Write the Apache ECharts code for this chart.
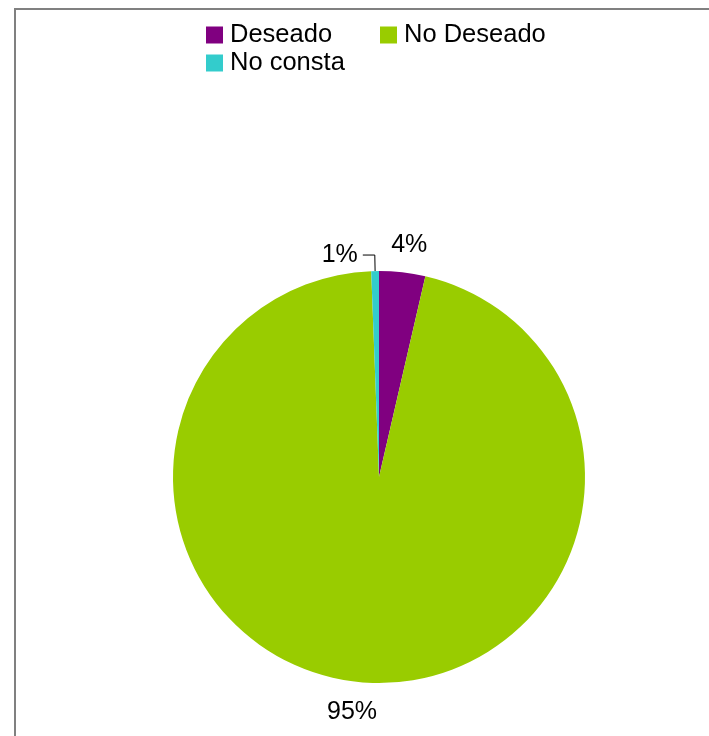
<!DOCTYPE html>
<html>
<head>
<meta charset="utf-8">
<script src="https://cdn.jsdelivr.net/npm/echarts@6/dist/echarts.min.js"></script>
<style>
  html, body { margin: 0; padding: 0; background: #fff; }
  #chart { width: 709px; height: 736px; }
</style>
</head>
<body>
<div id="chart"></div>
<script>
// datos (porcentajes)
const categories = ['Deseado', 'No Deseado', 'No consta'];
const values = [3.6, 95.4, 0.6];
const colors = ['#800080', '#99CC00', '#33CCCC'];

var chartDom = document.getElementById('chart');
var myChart = echarts.init(chartDom);
var option;

const font = '"Liberation Sans", Arial, sans-serif';

// una leyenda por serie, colocadas como en el original
const legendPos = [
  { left: 206, top: 22 },
  { left: 380, top: 22 },
  { left: 206, top: 50 }
];

// desplazamiento de las etiquetas (estilo Excel, centradas)
const labelShift = [
  { dx: -30, dy: -11 },
  { dx: 36, dy: 14 },
  { dx: 0, dy: 0 }
];

option = {
  animation: false,
  backgroundColor: '#fff',
  color: colors,
  graphic: [
    {
      type: 'rect',
      shape: { x: 15, y: 9, width: 800, height: 800 },
      style: { fill: 'none', stroke: '#808080', lineWidth: 2 },
      silent: true
    }
  ],
  legend: categories.map(function (name, i) {
    return {
      data: [name],
      left: legendPos[i].left,
      top: legendPos[i].top,
      icon: 'rect',
      itemWidth: 17,
      itemHeight: 17,
      itemGap: 6,
      padding: 0,
      textStyle: { fontFamily: font, fontSize: 25.5, color: '#000', padding: [0, 0, 0, 2] }
    };
  }),
  series: [
    {
      type: 'pie',
      center: [379, 477],
      radius: 206,
      startAngle: 90,
      clockwise: true,
      avoidLabelOverlap: false,
      label: {
        show: true,
        position: 'outside',
        fontFamily: font,
        fontSize: 25,
        color: '#000',
        formatter: function (p) { return Math.round(p.value) + '%'; }
      },
      labelLine: {
        show: true,
        length: 16,
        length2: 12,
        lineStyle: { color: '#000', width: 1 }
      },
      labelLayout: function (params) {
        return labelShift[params.dataIndex];
      },
      itemStyle: { borderWidth: 0 },
      emphasis: { disabled: true },
      data: categories.map(function (name, i) {
        var d = { name: name, value: values[i] };
        if (i !== 2) {
          d.labelLine = { show: false };
        }
        return d;
      })
    }
  ]
};

option && myChart.setOption(option);
</script>
</body>
</html>
